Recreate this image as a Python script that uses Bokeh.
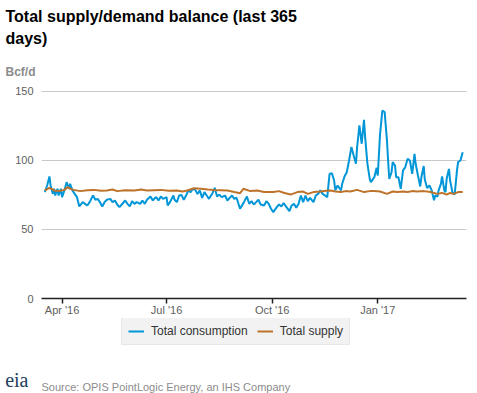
import pandas as pd
from bokeh.plotting import figure
from bokeh.layouts import column
from bokeh.models import (ColumnDataSource, Range1d, FixedTicker, DatetimeTickFormatter,
                          Legend, LegendItem, Title, Label)
from bokeh.embed import file_html
from bokeh.resources import INLINE

# ---------------- data ----------------
title_text = "Total supply/demand balance (last 365\ndays)"
unit_label = "Bcf/d"
source_note = "Source: OPIS PointLogic Energy, an IHS Company"
logo_text = "eia"
series_names = ["Total consumption", "Total supply"]
series_colors = ["#0096d7", "#bd732a"]
tick_dates = ["2016-04-01", "2016-07-01", "2016-10-01", "2017-01-01"]
tick_labels = ["Apr '16", "Jul '16", "Oct '16", "Jan '17"]
y_ticks = [0, 50, 100, 150]

consumption_dates = [
    "2016-03-17", "2016-03-19", "2016-03-21", "2016-03-22", "2016-03-24", "2016-03-25", "2016-03-26",
    "2016-03-28", "2016-03-29", "2016-03-31",
    "2016-04-01", "2016-04-03", "2016-04-05", "2016-04-07", "2016-04-08", "2016-04-10", "2016-04-12",
    "2016-04-14", "2016-04-16", "2016-04-19", "2016-04-21", "2016-04-23", "2016-04-25", "2016-04-28",
    "2016-04-30",
    "2016-05-02", "2016-05-04", "2016-05-06", "2016-05-08", "2016-05-10", "2016-05-13", "2016-05-15",
    "2016-05-17", "2016-05-19", "2016-05-21", "2016-05-23", "2016-05-26", "2016-05-28", "2016-05-30",
    "2016-06-01", "2016-06-03", "2016-06-05", "2016-06-08", "2016-06-10", "2016-06-12", "2016-06-14",
    "2016-06-17", "2016-06-19", "2016-06-21", "2016-06-22", "2016-06-24", "2016-06-26", "2016-06-28",
    "2016-07-01", "2016-07-02", "2016-07-04", "2016-07-07", "2016-07-08", "2016-07-10", "2016-07-12",
    "2016-07-14", "2016-07-16", "2016-07-18", "2016-07-20", "2016-07-22", "2016-07-24", "2016-07-26",
    "2016-07-28", "2016-07-30",
    "2016-08-01", "2016-08-03", "2016-08-05", "2016-08-07", "2016-08-10", "2016-08-12", "2016-08-14",
    "2016-08-16", "2016-08-18", "2016-08-21", "2016-08-23", "2016-08-25", "2016-08-27", "2016-08-29",
    "2016-08-31",
    "2016-09-03", "2016-09-06", "2016-09-09", "2016-09-11", "2016-09-13", "2016-09-15", "2016-09-17",
    "2016-09-19", "2016-09-21", "2016-09-24", "2016-09-26", "2016-09-28", "2016-09-30",
    "2016-10-02", "2016-10-05", "2016-10-07", "2016-10-09", "2016-10-11", "2016-10-13", "2016-10-16",
    "2016-10-18", "2016-10-20", "2016-10-22", "2016-10-24", "2016-10-26", "2016-10-28", "2016-10-30",
    "2016-11-01", "2016-11-03", "2016-11-06", "2016-11-08", "2016-11-10", "2016-11-12", "2016-11-14",
    "2016-11-16", "2016-11-18", "2016-11-20", "2016-11-22", "2016-11-24", "2016-11-25", "2016-11-27",
    "2016-11-30",
    "2016-12-01", "2016-12-03", "2016-12-05", "2016-12-07", "2016-12-09", "2016-12-11", "2016-12-13",
    "2016-12-14", "2016-12-16", "2016-12-18", "2016-12-20", "2016-12-21", "2016-12-23", "2016-12-25",
    "2016-12-26", "2016-12-29", "2016-12-31",
    "2017-01-01", "2017-01-03", "2017-01-05", "2017-01-07", "2017-01-09", "2017-01-10", "2017-01-11",
    "2017-01-13", "2017-01-14", "2017-01-16", "2017-01-17", "2017-01-19", "2017-01-21", "2017-01-23",
    "2017-01-25", "2017-01-27", "2017-01-29", "2017-01-31",
    "2017-02-02", "2017-02-03", "2017-02-05", "2017-02-07", "2017-02-08", "2017-02-10", "2017-02-11",
    "2017-02-13", "2017-02-15", "2017-02-17", "2017-02-19", "2017-02-20", "2017-02-22", "2017-02-23",
    "2017-02-25", "2017-02-26", "2017-02-28",
    "2017-03-01", "2017-03-02", "2017-03-04", "2017-03-05", "2017-03-07", "2017-03-09", "2017-03-11",
    "2017-03-12", "2017-03-14", "2017-03-16",
]
consumption_values = [
    77.1, 81.9, 88.4, 81.9, 75.8, 79.5, 74.6, 79.5, 74.6, 79.5,
    73.4, 78.3, 84.3, 79.5, 83.1, 78.3, 75.8, 73.4, 66.7, 69.8, 68.6, 67.4, 69.8, 74.6, 71.5,
    72.2, 69.8, 66.7, 69.8, 71.5, 72.2, 69.8, 71.0, 68.1, 66.2, 68.1, 71.0, 68.6, 66.7,
    70.5, 68.6, 69.8, 68.6, 71.0, 68.6, 71.5, 73.9, 71.0, 72.9, 73.4, 71.0, 73.9, 72.2,
    73.4, 67.4, 69.8, 74.6, 71.5, 69.8, 74.6, 75.1, 71.5, 74.6, 78.3, 77.1, 79.5, 78.7, 75.8, 78.3,
    72.9, 77.1, 74.6, 72.2, 76.3, 80.2, 73.9, 75.3, 73.4, 74.6, 71.0, 72.9, 74.6, 72.2, 73.0,
    65.0, 69.1, 73.9, 68.6, 70.5, 68.1, 69.8, 71.5, 68.1, 67.4, 70.5, 68.6, 65.0,
    62.6, 66.2, 68.1, 66.7, 69.1, 66.7, 63.3, 67.4, 68.6, 65.7, 68.6, 74.6, 69.8, 74.6,
    70.5, 72.9, 69.8, 74.6, 75.8, 78.3, 75.8, 74.6, 73.4, 90.3, 90.8, 85.5, 78.3, 81.9, 78.3,
    83.1, 88.4, 91.5, 100.0, 109.7, 103.6, 97.6, 109.7, 125.4, 112.1, 129.5, 116.9, 97.6, 86.7,
    84.3, 87.9, 94.7,
    89.1, 119.3, 136.2, 135.0, 114.5, 100.0, 86.7, 91.5, 98.8, 96.4, 87.9, 87.9, 79.5, 92.8,
    95.2, 101.2, 100.0, 90.3,
    104.8, 97.6, 89.1, 81.2, 88.0, 96.0, 86.0, 80.0, 81.9, 78.3, 71.1, 74.6, 73.9, 78.3,
    83.1, 88.4, 78.3,
    77.1, 86.7, 93.9, 85.5, 77.1, 75.4, 92.8, 98.9, 100.0, 106.0,
]

supply_dates = [
    "2016-03-17", "2016-03-21", "2016-03-25", "2016-03-29", "2016-04-03", "2016-04-06", "2016-04-08",
    "2016-04-11", "2016-04-17", "2016-04-23", "2016-04-29", "2016-05-05", "2016-05-10", "2016-05-15",
    "2016-05-19", "2016-05-26", "2016-06-03", "2016-06-09", "2016-06-14", "2016-06-20", "2016-06-26",
    "2016-07-03", "2016-07-10", "2016-07-15", "2016-07-19", "2016-07-25", "2016-07-31", "2016-08-06",
    "2016-08-11", "2016-08-17", "2016-08-23", "2016-08-29", "2016-09-03", "2016-09-06", "2016-09-12",
    "2016-09-18", "2016-09-24", "2016-10-02", "2016-10-07", "2016-10-11", "2016-10-17", "2016-10-23",
    "2016-10-28", "2016-11-01", "2016-11-06", "2016-11-12", "2016-11-17", "2016-11-21", "2016-11-25",
    "2016-11-30", "2016-12-04", "2016-12-08", "2016-12-14", "2016-12-20", "2016-12-25", "2016-12-29",
    "2017-01-03", "2017-01-09", "2017-01-14", "2017-01-18", "2017-01-23", "2017-01-27", "2017-01-31",
    "2017-02-04", "2017-02-10", "2017-02-16", "2017-02-22", "2017-02-26", "2017-03-02", "2017-03-05",
    "2017-03-08", "2017-03-12", "2017-03-16",
]
supply_values = [
    78.3, 80.2, 78.3, 77.8, 78.7, 80.7, 79.5,
    78.7, 77.8, 78.5, 78.7, 78.0, 78.3, 79.0,
    77.8, 78.5, 78.3, 78.9, 78.3, 78.5, 78.7,
    78.0, 78.3, 77.5, 78.3, 79.9, 79.5, 78.9,
    78.7, 78.5, 78.3, 77.1, 76.3, 79.5, 77.8,
    78.3, 77.1, 77.1, 77.8, 76.6, 75.3, 77.1,
    77.5, 75.8, 77.1, 77.5, 78.0, 78.3, 77.5,
    77.1, 77.8, 77.5, 78.7, 77.1, 77.8, 77.8,
    77.5, 75.8, 77.5, 77.1, 77.5, 77.1, 77.8,
    77.5, 77.8, 77.1, 75.8, 76.5, 75.3, 76.5,
    75.8, 77.1, 77.1,
]

# ---------------- main chart ----------------
cons_src = ColumnDataSource(dict(date=pd.to_datetime(consumption_dates), value=consumption_values))
sup_src = ColumnDataSource(dict(date=pd.to_datetime(supply_dates), value=supply_values))

p = figure(width=477, height=318, frame_width=425, frame_height=208,
           x_axis_type="datetime", output_backend="svg",
           toolbar_location=None, title=None,
           x_range=Range1d(pd.Timestamp("2016-03-14 02:00"), pd.Timestamp("2017-03-19 07:00")),
           y_range=Range1d(0, 150.7),
           min_border_left=41, min_border_right=11, min_border_top=90, min_border_bottom=20)
p.outline_line_color = None
p.background_fill_color = "white"
p.border_fill_color = "white"

FONT = "Liberation Sans"
tick_ms = [int(pd.Timestamp(d).timestamp() * 1000) for d in tick_dates]

xa = p.xaxis[0]
xa.ticker = FixedTicker(ticks=tick_ms)
xa.formatter = DatetimeTickFormatter(months="%b '%y", days="%b '%y", years="%b '%y")
xa.major_label_overrides = {t: lab for t, lab in zip(tick_ms, tick_labels)}
xa.axis_line_color = "#222222"
xa.axis_line_width = 1.5
xa.major_tick_in = 0
xa.major_tick_out = 5
xa.major_tick_line_color = "#222222"
xa.major_tick_line_width = 1.5
xa.minor_tick_line_color = None
xa.major_label_standoff = 0
xa.major_label_text_font = FONT
xa.major_label_text_font_size = "11px"
xa.major_label_text_color = "#606060"

ya = p.yaxis[0]
ya.ticker = FixedTicker(ticks=y_ticks)
ya.axis_line_color = None
ya.major_tick_line_color = None
ya.minor_tick_line_color = None
ya.major_tick_in = 0
ya.major_tick_out = 0
ya.major_label_standoff = 8
ya.major_label_text_font = FONT
ya.major_label_text_font_size = "11px"
ya.major_label_text_color = "#606060"

p.xgrid.grid_line_color = None
p.ygrid.grid_line_color = "#c8c8c8"
p.ygrid.grid_line_width = 1

r_c = p.line("date", "value", source=cons_src, line_color=series_colors[0], line_width=2)
r_s = p.line("date", "value", source=sup_src, line_color=series_colors[1], line_width=2)

# titles above the plot (first added = closest to the frame)
p.add_layout(Title(text=unit_label, align="left", offset=-36, standoff=23,
                   text_font=FONT, text_font_size="12px", text_font_style="bold",
                   text_color="#8c8c8c"), "above")
p.add_layout(Title(text=title_text, align="left", offset=-36, standoff=9,
                   text_font=FONT, text_font_size="16px", text_font_style="bold",
                   text_color="#000000", text_line_height=1.3), "above")

# ---------------- footer strip: legend, logo, source ----------------
# x in this strip runs in page pixels (frame aligned with the chart frame: 41..466)
foot = figure(width=477, height=75, frame_width=425, frame_height=75,
              x_range=Range1d(41, 466), y_range=Range1d(0, 75),
              output_backend="svg", toolbar_location=None, title=None,
              x_axis_location=None, y_axis_location="left",
              min_border_left=41, min_border_right=11, min_border_top=0, min_border_bottom=0)
foot.outline_line_color = None
foot.grid.visible = False
foot.background_fill_color = "white"
foot.border_fill_color = "white"

# logo text carried by the strip's left axis (outside the frame)
logo_y = 8
fa = foot.yaxis[0]
fa.ticker = FixedTicker(ticks=[logo_y])
fa.major_label_overrides = {logo_y: logo_text}
fa.axis_line_color = None
fa.major_tick_line_color = None
fa.minor_tick_line_color = None
fa.major_tick_in = 0
fa.major_tick_out = 0
fa.major_label_standoff = 13
fa.major_label_text_font = "Liberation Serif"
fa.major_label_text_font_size = "20px"
fa.major_label_text_color = "#24405f"

# legend keys: same data drawn in the strip's own (off-screen) coordinates
k_c = foot.line("date", "value", source=cons_src, line_color=series_colors[0], line_width=2)
k_s = foot.line("date", "value", source=sup_src, line_color=series_colors[1], line_width=2)

legend = Legend(items=[LegendItem(label=series_names[0], renderers=[k_c]),
                       LegendItem(label=series_names[1], renderers=[k_s])],
                orientation="horizontal", location=(80, 48), margin=0, padding=6,
                spacing=9, label_standoff=7, glyph_width=16, glyph_height=12, label_height=12,
                label_text_font=FONT, label_text_font_size="12px", label_text_color="#333333",
                background_fill_color="#f2f2f2", background_fill_alpha=1.0,
                border_line_color="#dcdcdc", border_line_width=1)
foot.add_layout(legend)

foot.add_layout(Label(x=41, y=6.3, text=source_note, text_font=FONT,
                      text_font_size="11px", text_color="#8c8c8c", text_baseline="alphabetic"))

layout = column(p, foot, spacing=0)
open("out.html", "w").write(file_html(layout, INLINE))
